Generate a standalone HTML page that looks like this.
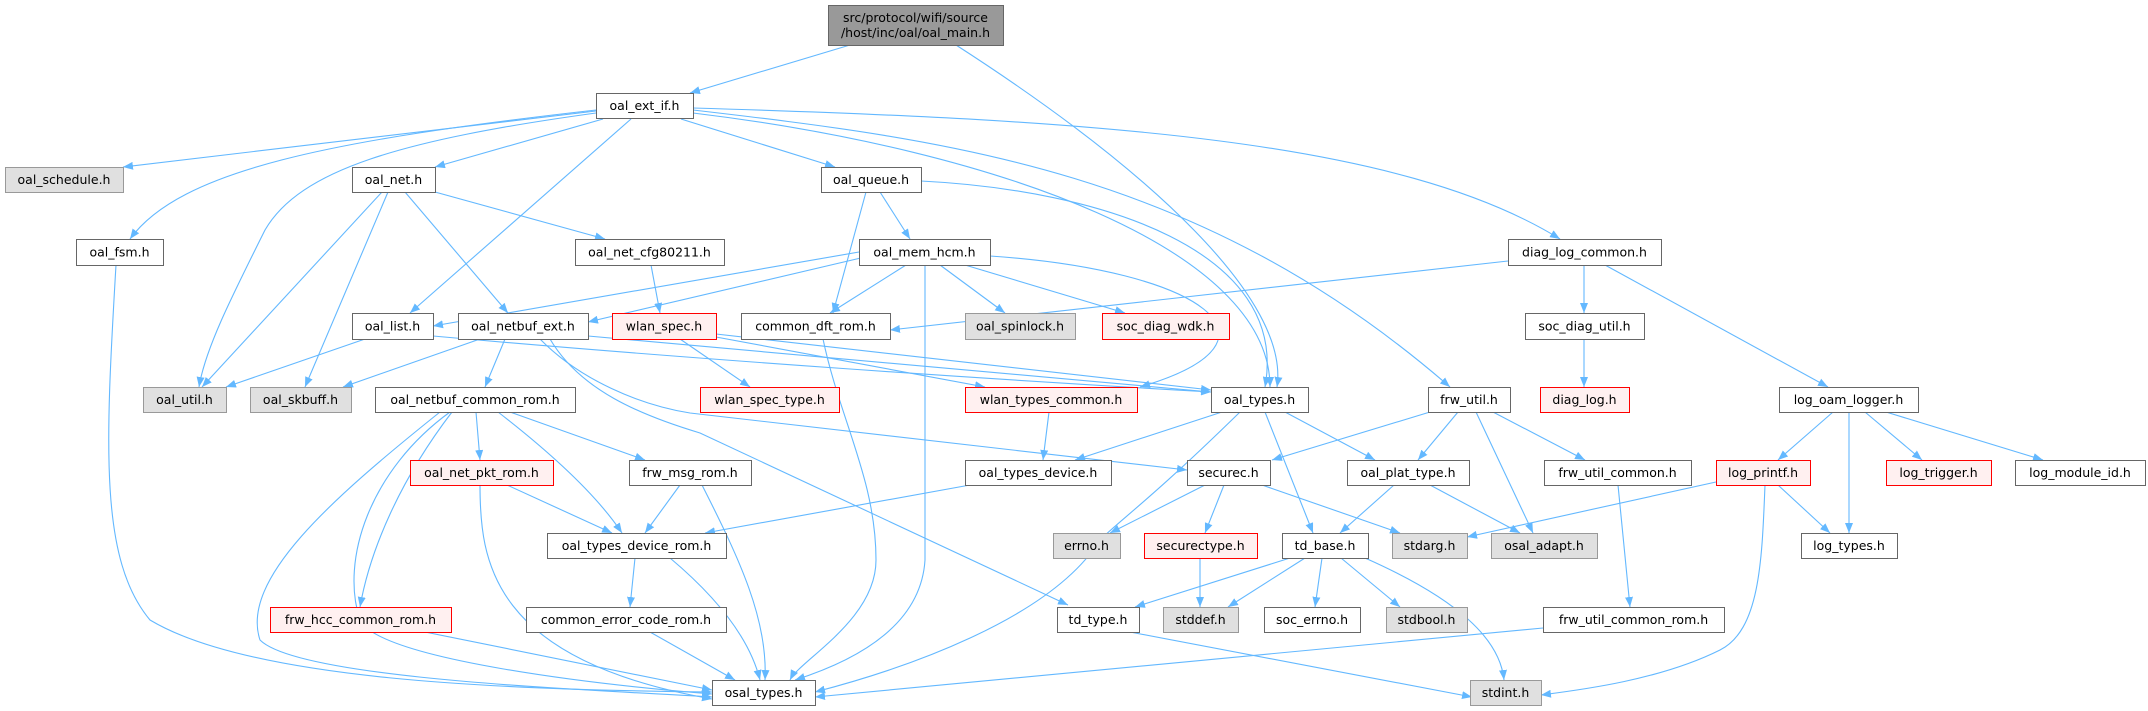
<!DOCTYPE html>
<html><head><meta charset="utf-8"><style>
html,body{margin:0;padding:0;background:#fff;width:2148px;height:711px;overflow:hidden}
svg{display:block}
text{font-family:"DejaVu Sans","Liberation Sans",sans-serif;font-size:12.5px;fill:#000}
</style></head><body>
<svg id="g" width="2148" height="711" xmlns="http://www.w3.org/2000/svg">
<defs><marker id="a" markerUnits="userSpaceOnUse" markerWidth="11" markerHeight="8" refX="10" refY="4" orient="auto"><path d="M0,0 L10,4 L0,8 z" fill="#63b8ff"/></marker></defs>
<g id="e" fill="none" stroke="#63b8ff" stroke-width="1.1"></g>
<g id="n"></g>
</svg>
<script>
var N=[
["src/protocol/wifi/source|/host/inc/oal/oal_main.h",828,1003,5,45,"m"],
["oal_ext_if.h",596,693,93,118],
["oal_schedule.h",5,123,167,192,"g"],
["oal_net.h",352,435,167,192],
["oal_queue.h",821,921,167,192],
["diag_log_common.h",1508,1661,239,265],
["oal_fsm.h",76,163,239,265],
["oal_net_cfg80211.h",575,724,239,265],
["oal_mem_hcm.h",859,990,239,265],
["oal_list.h",352,433,313,339],
["oal_netbuf_ext.h",458,588,313,339],
["wlan_spec.h",612,716,313,339,"r"],
["common_dft_rom.h",741,890,313,339],
["oal_spinlock.h",965,1075,313,339,"g"],
["soc_diag_wdk.h",1102,1229,313,339,"r"],
["soc_diag_util.h",1525,1644,313,339],
["oal_util.h",143,226,387,412,"g"],
["oal_skbuff.h",250,351,387,412,"g"],
["oal_netbuf_common_rom.h",375,575,387,412],
["wlan_spec_type.h",700,839,387,412,"r"],
["wlan_types_common.h",965,1137,387,412,"r"],
["oal_types.h",1211,1308,387,412],
["frw_util.h",1428,1510,387,412],
["diag_log.h",1540,1629,387,412,"r"],
["log_oam_logger.h",1779,1918,387,412],
["oal_net_pkt_rom.h",410,553,460,485,"r"],
["frw_msg_rom.h",629,751,460,485],
["oal_types_device.h",965,1111,460,485],
["securec.h",1187,1270,460,485],
["oal_plat_type.h",1347,1469,460,485],
["frw_util_common.h",1544,1691,460,485],
["log_printf.h",1716,1810,460,485,"r"],
["log_trigger.h",1886,1991,460,485,"r"],
["log_module_id.h",2015,2145,460,485],
["oal_types_device_rom.h",547,726,533,558],
["errno.h",1053,1120,533,558,"g"],
["securectype.h",1144,1257,533,558,"r"],
["td_base.h",1282,1368,533,558],
["stdarg.h",1392,1467,533,558,"g"],
["osal_adapt.h",1491,1597,533,558,"g"],
["log_types.h",1801,1897,533,558],
["frw_hcc_common_rom.h",270,451,607,632,"r"],
["common_error_code_rom.h",526,726,607,632],
["td_type.h",1057,1139,607,632],
["stddef.h",1163,1238,607,632,"g"],
["soc_errno.h",1264,1360,607,632],
["stdbool.h",1386,1467,607,632,"g"],
["frw_util_common_rom.h",1543,1724,607,632],
["osal_types.h",712,815,680,705],
["stdint.h",1470,1541,680,705,"g"]
];
var E=[
"M850,45 L690,93","M956,45 C1150,170 1290,300 1277,387",
"M596,111 L123,167","M596,110 C330,140 180,170 130,239",
"M596,113 C400,140 300,170 265,230 C230,300 205,350 199,387","M603,119 L435,167","M631,119 L410,313","M681,119 L835,167",
"M693,113 C1000,150 1270,250 1270,387","M693,110 C950,140 1200,170 1450,387","M693,108 C1100,120 1400,140 1560,239",
"M382,192 L202,387","M365,339 L226,387","M388,192 L305,387","M480,339 L343,387",
"M405,192 L508,313","M435,192 L605,239","M866,192 L833,313","M880,192 L910,239",
"M921,181 C1100,190 1290,250 1265,387",
"M116,265 C105,450 100,560 150,620 C250,680 500,690 712,692",
"M651,265 L660,313","M859,252 L433,326","M865,257 L588,322","M906,265 L830,313","M940,265 L1005,313","M965,265 L1125,313",
"M925,265 L925,560 Q920,640 795,680","M823,339 C840,420 876,480 876,560 C876,620 800,660 790,680",
"M990,256 C1200,270 1300,340 1140,387",
"M433,336 C700,360 1000,380 1211,392","M588,336 L1211,392","M716,334 L1211,390","M716,337 L985,387","M680,339 L750,387",
"M505,339 L485,387","M540,339 C580,380 640,405 690,413 L1187,470","M550,339 C580,390 640,415 700,433 L1068,605",
"M440,412 C330,500 240,580 260,640 C300,680 600,690 712,697","M450,412 C370,470 340,560 360,620 C380,660 600,685 712,694",
"M476,412 L480,460","M498,412 C560,460 600,500 622,533","M510,412 L645,460","M452,412 C400,480 370,550 360,607",
"M480,485 C480,560 490,660 712,699","M507,485 L612,533","M680,485 L645,533","M702,485 C740,560 768,620 765,680",
"M635,558 L630,607","M670,558 C720,600 750,640 760,680","M425,632 L712,690","M650,632 L735,680",
"M970,485 L705,533","M1049,412 L1043,460",
"M1222,412 L1075,460","M1240,412 C1150,500 1120,520 1100,540 C1050,620 900,670 815,692","M1265,412 L1313,533","M1285,412 L1375,460",
"M1205,485 L1110,533","M1224,485 L1205,533","M1262,485 L1400,533",
"M1394,485 L1340,533","M1430,485 L1520,533",
"M1430,412 L1272,460","M1458,412 L1418,460","M1476,412 L1533,533","M1493,412 L1585,460",
"M1618,485 L1630,607","M1543,628 L815,697",
"M1290,558 L1135,607","M1305,558 L1228,607","M1322,558 L1315,607","M1341,558 L1400,607","M1365,558 C1460,600 1500,640 1504,680",
"M1200,558 L1200,607","M1130,632 L1472,697",
"M1584,339 L1584,387","M1584,265 L1584,313","M1605,265 L1828,387","M1508,261 L890,330",
"M1833,412 L1778,460","M1849,412 L1849,533","M1865,412 L1922,460","M1886,412 L2043,460",
"M1716,482 L1467,537","M1778,485 L1830,533","M1765,485 C1762,560 1760,630 1720,650 C1660,680 1580,690 1541,695"
];
var ns="http://www.w3.org/2000/svg",ge=document.getElementById("e"),gn=document.getElementById("n");
E.forEach(function(d){var p=document.createElementNS(ns,"path");p.setAttribute("d",d);p.setAttribute("marker-end","url(#a)");ge.appendChild(p);});
N.forEach(function(v){
 var t=v[5]||"w",f="#fff",s="#666";
 if(t=="g"){f="#e0e0e0";s="#999";} if(t=="r"){f="#fff0f0";s="#f00";} if(t=="m"){f="#999";s="#666";}
 var r=document.createElementNS(ns,"rect");
 r.setAttribute("x",v[1]+.5);r.setAttribute("y",v[3]+.5);r.setAttribute("width",v[2]-v[1]);r.setAttribute("height",v[4]-v[3]);
 r.setAttribute("fill",f);r.setAttribute("stroke",s);gn.appendChild(r);
 var lines=v[0].split("|"),cx=(v[1]+v[2])/2,cy=(v[3]+v[4])/2;
 lines.forEach(function(l,i){var tx=document.createElementNS(ns,"text");
  tx.setAttribute("x",cx);tx.setAttribute("y",cy+4.5+(i-(lines.length-1)/2)*15);tx.setAttribute("text-anchor","middle");
  tx.textContent=l;gn.appendChild(tx);});
});
</script>
</body></html>
